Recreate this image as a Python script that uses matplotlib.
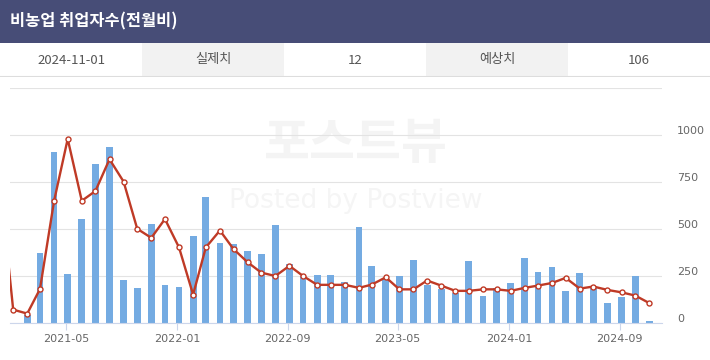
import numpy as np
import pandas as pd
import matplotlib
matplotlib.use("Agg")
import matplotlib.pyplot as plt
import matplotlib.dates as mdates
import matplotlib.transforms as mtrans
from matplotlib.patches import Rectangle

plt.rcParams['font.family'] = ['Noto Sans CJK KR', 'DejaVu Sans']

# header values
title = "비농업 취업자수(전월비)"
release_date = "2024-11-01"
actual_label, actual_value = "실제치", "12"
forecast_label, forecast_value = "예상치", "106"

# monthly series, 2020-12 .. 2024-11 (release months)
months = pd.date_range("2020-12-01", "2024-11-01", freq="MS") + pd.Timedelta(days=4)
actual = [np.nan, np.nan,
          45, 373, 910, 259, 553, 848, 937, 227, 185, 526, 203,
          192, 462, 670, 425, 419, 382, 368, 521, 312, 252, 256, 254,
          217, 510, 302, 237, 249, 334, 201, 179, 162, 329, 144, 187,
          212, 345, 270, 297, 169, 265, 192, 105, 139, 249, 12]
forecast = [800, 71,
            50, 181, 649, 979, 650, 702, 871, 752, 501, 453, 553,
            402, 151, 402, 492, 393, 323, 268, 250, 304, 250, 203, 203,
            203, 187, 204, 243, 179, 179, 226, 199, 171, 171, 179, 179,
            171, 187, 199, 213, 240, 183, 194, 176, 163, 146, 106]
tick_dates = pd.date_range("2021-05-01", "2024-09-01", freq="8MS")
y_ticks = [0, 250, 500, 750, 1000, 1250]

W, H = 710, 360
fig = plt.figure(figsize=(W / 100, H / 100), dpi=100)
fig.patch.set_facecolor("white")

# title bar
hdr = fig.add_axes([0, 1 - 43 / H, 1, 43 / H])
hdr.set_facecolor("#474d77")
hdr.set_xticks([]); hdr.set_yticks([])
for s in hdr.spines.values():
    s.set_visible(False)
hdr.text(10 / W, 0.5, title, color="white", fontsize=11.8, fontweight="bold",
         va="center", ha="left", transform=hdr.transAxes)

# info row
row = fig.add_axes([0, 1 - 77 / H, 1, 34 / H])
row.set_xlim(0, 5); row.set_ylim(0, 1)
row.set_xticks([]); row.set_yticks([])
for s in row.spines.values():
    s.set_visible(False)
cells = [release_date, actual_label, actual_value, forecast_label, forecast_value]
for i, txt in enumerate(cells):
    if i in (1, 3):
        row.add_patch(Rectangle((i, 0), 1, 1, color="#f2f2f2", lw=0))
    row.text(i + 0.5, 0.5, txt, ha="center", va="center", fontsize=9.5, color="#555555")
row.axhline(0, color="#dddddd", lw=1.5)

# chart
ax = fig.add_axes([10 / W, (H - 323) / H, 652 / W, (323 - 88) / H])
ax.set_facecolor("white")
ax.text(0.53, 0.76, "포스트뷰", transform=ax.transAxes, ha="center", va="center",
        fontsize=36, fontweight="bold", color="#f4f4f4", zorder=0)
ax.text(0.53, 0.52, "Posted by Postview", transform=ax.transAxes, ha="center",
        va="center", fontsize=19, color="#f5f5f5", family="DejaVu Sans", zorder=0)

ax.bar(months, actual, width=15, color="#74abe2", zorder=2)
ax.plot(months, forecast, color="#bf3a26", lw=1.7, marker="o", ms=3.6,
        mfc="white", mec="#bf3a26", mew=1.0, zorder=3)

ax.set_xlim(pd.Timestamp("2020-12-29"), pd.Timestamp("2024-12-03"))
ax.set_ylim(0, 1250)
ax.set_yticks(y_ticks)
ax.set_yticklabels([str(v) if v < 1250 else "" for v in y_ticks])
ax.yaxis.tick_right()
ax.grid(axis="y", color="#e3e3e3", lw=0.8, zorder=1)
ax.tick_params(axis="y", length=0, pad=11, labelsize=8, labelcolor="#666666")
off = mtrans.ScaledTranslation(0, 5 / 100, fig.dpi_scale_trans)
for lab in ax.get_yticklabels():
    lab.set_transform(lab.get_transform() + off)
    lab.set_family("DejaVu Sans")

ax.set_xticks(tick_dates)
ax.xaxis.set_major_formatter(mdates.DateFormatter("%Y-%m"))
ax.tick_params(axis="x", length=5, width=0.8, color="#ccd6eb", pad=3,
               labelsize=8, labelcolor="#666666")
for lab in ax.get_xticklabels():
    lab.set_family("DejaVu Sans")
for side in ("top", "left", "right"):
    ax.spines[side].set_visible(False)
ax.spines["bottom"].set_color("#ccd6eb")
ax.spines["bottom"].set_linewidth(0.8)
ax.set_axisbelow(True)

fig.savefig("out.png", dpi=100)
